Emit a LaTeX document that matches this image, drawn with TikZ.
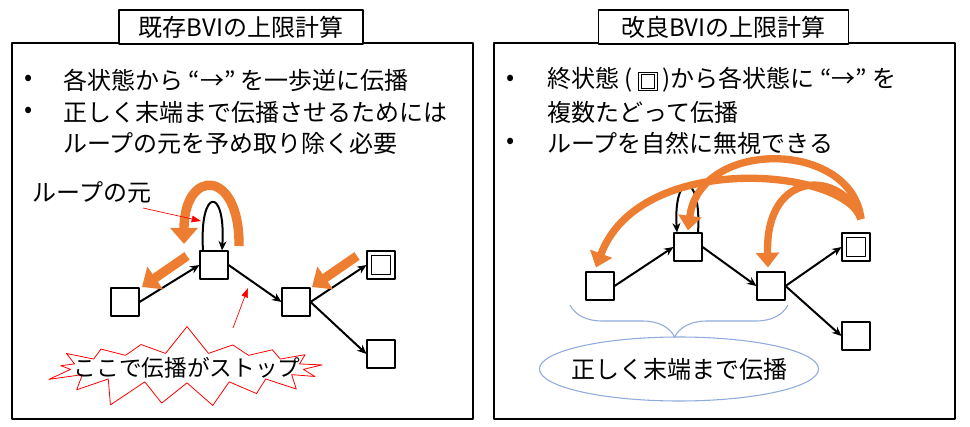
\documentclass[tikz,border=0pt]{standalone}
\usepackage{fontspec}
\setmainfont{Noto Sans CJK JP}
\usetikzlibrary{arrows.meta,shapes.geometric,shapes.symbols,decorations.pathreplacing}

\definecolor{orng}{HTML}{ED7D31}
\definecolor{lblue}{HTML}{8FAADC}

\newcommand\finmark{{\fboxsep=1.3pt\fboxrule=0.6pt\fbox{\fboxsep=0pt\fbox{\rule{0pt}{9.5pt}\hspace{9.5pt}}}}}

\tikzset{
  stbox/.style={draw, line width=0.8pt, minimum size=21pt, inner sep=0pt},
  finbox/.style={stbox, path picture={
      \draw[line width=0.8pt]
        ([shift={(3.2pt,-3.2pt)}]path picture bounding box.north west) rectangle
        ([shift={(-3.2pt,3.2pt)}]path picture bounding box.south east);}},
  flow/.style={line width=1.5pt, -{Stealth[length=7pt,width=6pt]}},
  txt/.style={anchor=west, inner sep=0pt, font=\fontsize{18}{22}\selectfont},
  orarrow/.style={draw=orng, line width=7pt, -{Triangle[width=20pt,length=12pt]}},
  orcurve/.style={draw=orng, line width=5.5pt, -{Triangle[width=17pt,length=11pt]}},
  redarrow/.style={draw=red, line width=0.5pt, -{Triangle[width=5pt,length=7pt]}},
  titlebox/.style={draw, fill=white, line width=0.8pt, minimum height=25.5pt, inner sep=0pt,
    font=\fontsize{18}{22}\selectfont}
}

\begin{document}
\begin{tikzpicture}[x=0.75pt,y=-0.75pt,line join=round]
\useasboundingbox (0,0) rectangle (970,427);

% --- frames ---
\draw[line width=0.8pt] (12,43) rectangle (473,419);
\draw[line width=0.8pt] (494,43) rectangle (955,419);
\node[titlebox, minimum width=183pt] (ltitle) at (241,27) {既存BVIの上限計算};
\node[titlebox, minimum width=187pt] (rtitle) at (723.5,27) {改良BVIの上限計算};

% --- left text ---
\node[txt] (lb1) at (24,80) {•};
\node[txt] (lt1) at (63,80) {各状態から “→” を一歩逆に伝播};
\node[txt] (lb2) at (24,112) {•};
\node[txt] (lt2) at (63,112) {正しく末端まで伝播させるためには};
\node[txt] (lt3) at (63,143) {ループの元を予め取り除く必要};

% --- right text ---
\node[txt] (rb1) at (506,80) {•};
\node[txt] (rt1) at (547,80) {終状態 (\kern4pt\finmark\kern4pt)から各状態に “→” を};
\node[txt] (rt2) at (547,112) {複数たどって伝播};
\node[txt] (rb3) at (506,143) {•};
\node[txt] (rt3) at (547,143) {ループを自然に無視できる};

% --- left graph ---
\node[stbox]  (lA) at (125,302) {};
\node[stbox]  (lB) at (214,265) {};
\node[stbox]  (lC) at (296,302) {};
\node[finbox] (lD) at (381,265) {};
\node[stbox]  (lE) at (381,354) {};

\draw[flow] (lA.east) -- (lB.west);
\draw[flow] (lB.east) -- (lC.west);
\draw[flow] (lC.east) -- (lD.west);
\draw[flow] (lC.east) -- (lE.west);
\draw[flow] ([shift={(-11,0)}]lB.north) .. controls +(-4,-64) and +(4,-64) .. ([shift={(8,0)}]lB.north);

% orange arrows (one step back)
\coordinate (o1s) at (187,256);
\coordinate (o1e) at (142,287);
\coordinate (o2s) at (357,256);
\coordinate (o2e) at (312,287);
\draw[orarrow] (o1s) -- (o1e);
\draw[orarrow] (o2s) -- (o2e);
\coordinate (o3s) at (239,246);
\coordinate (o3e) at (184,244);
\draw[orarrow] (o3s) .. controls (240,168) and (184,168) .. (o3e);

% loop label
\node[inner sep=0pt, font=\fontsize{18}{22}\selectfont] (looplbl) at (92,192) {ループの元};
\coordinate (loopfrom) at (143,208);
\coordinate (loopto) at (201,221);
\draw[redarrow] (loopfrom) -- (loopto);

% stop burst
\node[starburst, draw=red, line width=0.6pt, starburst points=17, starburst point height=22pt,
  random starburst=7, inner sep=0pt,
  font=\fontsize{17}{20}\selectfont] (burst) at (187,368) {\makebox[124pt]{ここで伝播がストップ}};
\coordinate (stopfrom) at (233,328);
\coordinate (stopto) at (248,288);
\draw[redarrow] (stopfrom) -- (stopto);

% --- right graph ---
\node[stbox]  (rA) at (600,286) {};
\node[stbox]  (rB) at (688,247) {};
\node[stbox]  (rC) at (771,286) {};
\node[finbox] (rD) at (856,247) {};
\node[stbox]  (rE) at (856,336) {};

\draw[flow] (rA.east) -- (rB.west);
\draw[flow] (rB.east) -- (rC.west);
\draw[flow] (rC.east) -- (rD.west);
\draw[flow] (rC.east) -- (rE.west);
\draw[flow] ([shift={(10,0)}]rB.north) .. controls +(4,-62) and +(-4,-62) .. ([shift={(-11,0)}]rB.north);

% orange arrows from the final state
\coordinate (src) at (861,219);
\draw[orcurve] (src) .. controls (845,168) and (640,150) .. ([shift={(-4,-4)}]rA.north);
\draw[orcurve] (src) .. controls (852,140) and (700,138) .. ([shift={(0,-2)}]rB.north);
\draw[orcurve] (src) .. controls (842,170) and (765,168) .. ([shift={(-3,-4)}]rC.north);

% brace and note
\coordinate (brL) at (570,305);
\coordinate (brR) at (788,305);
\draw[lblue, line width=0.8pt, decorate, decoration={brace, amplitude=24pt, aspect=0.52}] (brR) -- (brL);
\node[ellipse, draw=lblue, line width=0.8pt, minimum height=48pt, inner sep=0pt,
  font=\fontsize{18}{22}\selectfont] (goal) at (679,369) {\makebox[148pt]{正しく末端まで伝播}};
\end{tikzpicture}
\end{document}
